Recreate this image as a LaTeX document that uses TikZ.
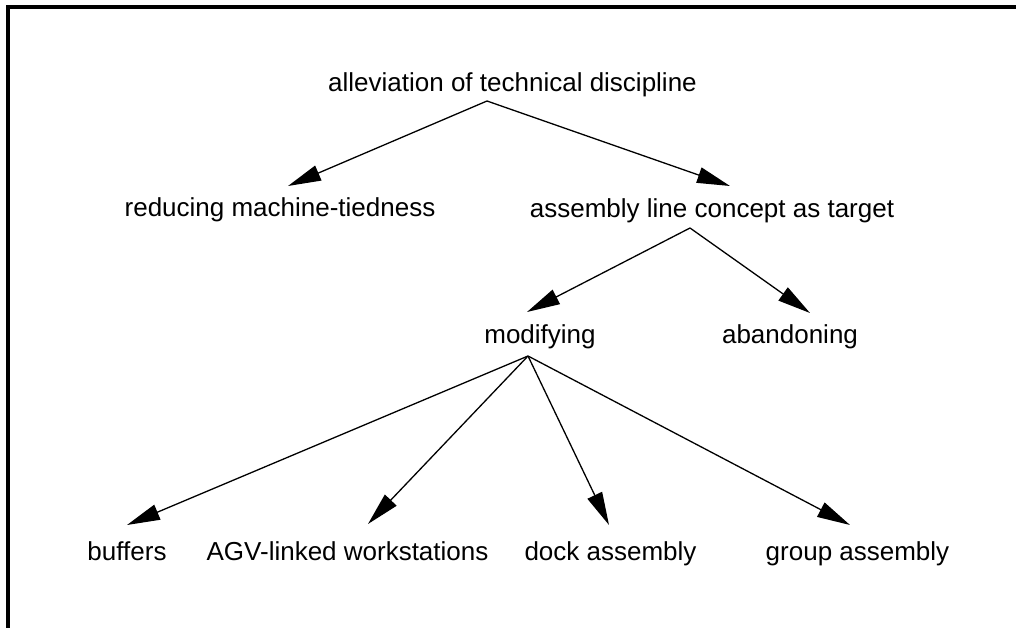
\documentclass[tikz,border=0pt]{standalone}
\usepackage{fontspec}
\setmainfont{Liberation Sans}
\usetikzlibrary{arrows.meta}
\begin{document}
\begin{tikzpicture}[x=1pt,y=-1pt,
  lbl/.style={anchor=base,inner sep=0pt,font=\fontsize{26}{30}\selectfont},
  arr/.style={line width=1.3pt,-{Triangle[length=33pt,width=16pt]}},
  frame/.style={line width=3.2pt}]
\useasboundingbox (0,0) rectangle (1016,628);
\draw[frame] (8,628) -- (8,7) -- (1016,7);
\node[lbl] (top)   at (512.5,92) {alleviation of technical discipline};
\node[lbl] (red)   at (280,217) {reducing machine-tiedness};
\node[lbl] (asm)   at (712,218) {assembly line concept as target};
\node[lbl] (mod)   at (540,343) {modifying};
\node[lbl] (aban)  at (790,343) {abandoning};
\node[lbl] (buf)   at (127,560) {buffers};
\node[lbl] (agv)   at (347.5,560) {AGV-linked workstations};
\node[lbl] (dock)  at (610.5,560) {dock assembly};
\node[lbl] (group) at (857.5,560) {group assembly};
\coordinate (topA) at ([shift={(-25.5,9)}]top.base);
\coordinate (asmA) at ([shift={(-22,10)}]asm.base);
\coordinate (modA) at ([shift={(-12,13)}]mod.base);
\draw[arr] (topA) -- ([shift={(8,-31)}]red.base);
\draw[arr] (topA) -- ([shift={(18,-32)}]asm.base);
\draw[arr] (asmA) -- ([shift={(-13,-31)}]mod.base);
\draw[arr] (asmA) -- ([shift={(20,-30)}]aban.base);
\draw[arr] (modA) -- ([shift={(0,-35)}]buf.base);
\draw[arr] (modA) -- ([shift={(20.5,-36)}]agv.base);
\draw[arr] (modA) -- ([shift={(-1.5,-35)}]dock.base);
\draw[arr] (modA) -- ([shift={(-7.5,-35)}]group.base);
\end{tikzpicture}
\end{document}
